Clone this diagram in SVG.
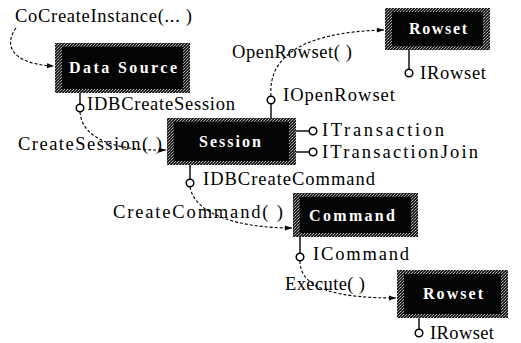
<svg xmlns="http://www.w3.org/2000/svg" width="521" height="343" viewBox="0 0 521 343">
<defs>
<pattern id="dith" width="3" height="3" patternUnits="userSpaceOnUse">
<rect width="3" height="3" fill="#1e1e1e"/>
<rect x="0" y="0" width="1" height="1" fill="#a8a8a8"/>
<rect x="2" y="1" width="1" height="1" fill="#7a7a7a"/>
<rect x="1" y="2" width="1" height="1" fill="#b8b8b8"/>
</pattern>
<marker id="arr" viewBox="0 0 10 10" refX="10" refY="5" markerWidth="8" markerHeight="7" orient="auto" markerUnits="userSpaceOnUse">
<path d="M0,1.5 L10,5 L0,8.5 Z" fill="#000"/>
</marker>
</defs>
<style>
.frame{fill:url(#dith);}
.core{fill:#040404;}
.bt{font-family:"Liberation Serif","Times New Roman",serif;font-weight:bold;fill:#fff;font-size:16px;}
.lb{font-family:"Liberation Serif","Times New Roman",serif;fill:#000;font-size:18.5px;}
.stem{stroke:#000;stroke-width:1.4;fill:none;}
.lol{fill:#fff;stroke:#000;stroke-width:1.5;}
.dash{fill:none;stroke:#000;stroke-width:1.1;stroke-dasharray:3 2;marker-end:url(#arr);}
</style>
<rect width="521" height="343" fill="#fff"/>

<g id="connectors">
<path class="dash" d="M16,28 C4,44 10,64 54,66"/>
<path class="dash" d="M80,112 C82,140 118,151 166,150"/>
<path class="dash" d="M271,96 C268,58 300,32 384,30"/>
<path class="dash" d="M190,187 C195,215 240,228 292,228"/>
<path class="dash" d="M300,261 C300,290 340,298 396,298"/>
</g>

<text class="lb" x="15" y="22" textLength="177" lengthAdjust="spacing">CoCreateInstance(... )</text>
<text class="lb" x="232" y="58" textLength="120" lengthAdjust="spacing">OpenRowset( )</text>
<text class="lb" x="18" y="150" textLength="144" lengthAdjust="spacing">CreateSession( )</text>
<text class="lb" x="113" y="218" textLength="170" lengthAdjust="spacing">CreateCommand( )</text>
<text class="lb" x="285" y="290" textLength="80" lengthAdjust="spacing">Execute( )</text>

<g id="datasource">
<rect class="frame" x="55" y="43" width="135" height="50"/>
<rect class="core" x="62" y="47" width="121" height="42"/>
<text class="bt" x="123" y="73" text-anchor="middle" textLength="108" lengthAdjust="spacing">Data Source</text>
<line class="stem" x1="80" y1="93" x2="80" y2="104"/>
<circle class="lol" cx="80" cy="108" r="3.8"/>
<text class="lb" x="87" y="110" textLength="148" lengthAdjust="spacing">IDBCreateSession</text>
</g>

<g id="session">
<rect class="frame" x="167" y="118" width="129" height="47"/>
<rect class="core" x="174" y="122" width="115" height="39"/>
<text class="bt" x="230" y="147" text-anchor="middle" textLength="62" lengthAdjust="spacing">Session</text>
<line class="stem" x1="271" y1="118" x2="271" y2="104"/>
<circle class="lol" cx="271" cy="100" r="3.8"/>
<text class="lb" x="283" y="101" textLength="112" lengthAdjust="spacing">IOpenRowset</text>
<line class="stem" x1="296" y1="131" x2="309" y2="131"/>
<circle class="lol" cx="313" cy="131" r="3.8"/>
<text class="lb" x="322" y="136" textLength="122" lengthAdjust="spacing">ITransaction</text>
<line class="stem" x1="296" y1="152" x2="309" y2="152"/>
<circle class="lol" cx="313" cy="152" r="3.8"/>
<text class="lb" x="322" y="158" textLength="156" lengthAdjust="spacing">ITransactionJoin</text>
<line class="stem" x1="190" y1="165" x2="190" y2="179"/>
<circle class="lol" cx="190" cy="183" r="3.8"/>
<text class="lb" x="203" y="185" textLength="172" lengthAdjust="spacing">IDBCreateCommand</text>
</g>

<g id="rowset1">
<rect class="frame" x="385" y="8" width="105" height="42"/>
<rect class="core" x="392" y="12" width="91" height="34"/>
<text class="bt" x="438" y="34" text-anchor="middle" textLength="58" lengthAdjust="spacing">Rowset</text>
<line class="stem" x1="409" y1="50" x2="409" y2="69"/>
<circle class="lol" cx="409" cy="73" r="3.8"/>
<text class="lb" x="420" y="79" textLength="66" lengthAdjust="spacing">IRowset</text>
</g>

<g id="command">
<rect class="frame" x="293" y="193" width="125" height="44"/>
<rect class="core" x="300" y="197" width="111" height="36"/>
<text class="bt" x="352" y="221" text-anchor="middle" textLength="86" lengthAdjust="spacing">Command</text>
<line class="stem" x1="300" y1="237" x2="300" y2="253"/>
<circle class="lol" cx="300" cy="257" r="3.8"/>
<text class="lb" x="313" y="260" textLength="96" lengthAdjust="spacing">ICommand</text>
</g>

<g id="rowset2">
<rect class="frame" x="397" y="270" width="111" height="48"/>
<rect class="core" x="404" y="274" width="97" height="40"/>
<text class="bt" x="453" y="299" text-anchor="middle" textLength="60" lengthAdjust="spacing">Rowset</text>
<line class="stem" x1="419" y1="318" x2="419" y2="329"/>
<circle class="lol" cx="419" cy="333" r="3.8"/>
<text class="lb" x="430" y="339" textLength="64" lengthAdjust="spacing">IRowset</text>
</g>
</svg>
